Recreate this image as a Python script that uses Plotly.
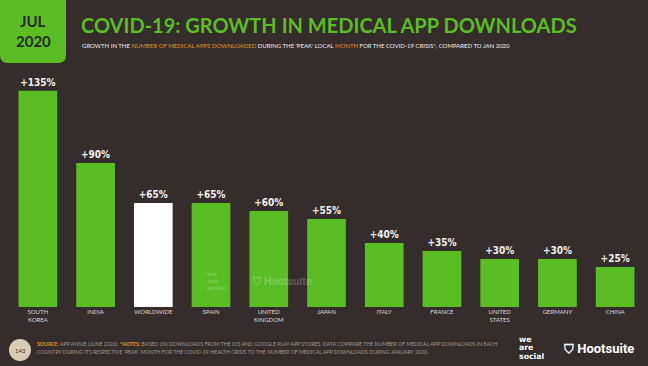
import plotly.graph_objects as go

categories = ["SOUTH<br>KOREA", "INDIA", "WORLDWIDE", "SPAIN", "UNITED<br>KINGDOM", "JAPAN",
              "ITALY", "FRANCE", "UNITED<br>STATES", "GERMANY", "CHINA"]
growth = [135, 90, 65, 65, 60, 55, 40, 35, 30, 30, 25]
highlight = "WORLDWIDE"

W, H = 648, 366
BG = "#352d2b"
GREEN = "#5bbd24"
ORANGE = "#e8902a"
ML, MR, MT, MB = 9, 4, 70, 59

def px(x):
    return (x - ML) / (W - ML - MR)

def py(y):
    return (H - MB - y) / (H - MT - MB)

colors = ["#ffffff" if c == highlight else GREEN for c in categories]
labels = [f"+{v}%" for v in growth]

fig = go.Figure(go.Bar(
    x=list(range(len(categories))), y=growth, marker=dict(color=colors, line=dict(width=0)),
    text=labels, textposition="outside", cliponaxis=False,
    textfont=dict(family="Liberation Sans Narrow, DejaVu Sans Condensed", size=10, color="#f2f2f2"),
    texttemplate="<b>%{text}</b>",
    width=0.67,
))

fig.update_layout(
    width=W, height=H, paper_bgcolor=BG, plot_bgcolor=BG,
    margin=dict(l=ML, r=MR, t=MT, b=MB), showlegend=False,
    xaxis=dict(range=[-0.5, len(categories) - 0.5], tickmode="array",
               tickvals=list(range(len(categories))), ticktext=categories,
               tickfont=dict(family="Lato, Open Sans", size=6, color="#d8d8d8"),
               showgrid=False, zeroline=False, showline=False, ticks="", ticklen=0),
    yaxis=dict(range=[0, 148], visible=False, showgrid=False, zeroline=False),
)

# date box with rounded bottom corners
r = 8
x0, x1, y0, y1 = 0, 66, 0, 63
path = (f"M {px(x0)},{py(y0)} L {px(x1)},{py(y0)} L {px(x1)},{py(y1 - r)} "
        f"Q {px(x1)},{py(y1)} {px(x1 - r)},{py(y1)} L {px(x0 + r)},{py(y1)} "
        f"Q {px(x0)},{py(y1)} {px(x0)},{py(y1 - r)} Z")
fig.add_shape(type="path", path=path, xref="paper", yref="paper",
              fillcolor=GREEN, line=dict(width=0), layer="below")

# footer page circle
fig.add_shape(type="circle", xref="paper", yref="paper",
              x0=px(9), x1=px(31), y0=py(361), y1=py(339),
              fillcolor="#d8ccb4", line=dict(width=0))

ann = []
def add(x, y, text, size, color, family="Lato, Open Sans", xanchor="left", yanchor="middle", **kw):
    ann.append(dict(x=px(x), y=py(y), xref="paper", yref="paper", text=text, showarrow=False,
                    xanchor=xanchor, yanchor=yanchor, font=dict(size=size, color=color, family=family), **kw))

add(33, 21, "<b>JUL</b>", 15, "#2a2a22", family="Lato", xanchor="center")
add(33, 41, "<b>2020</b>", 15, "#2a2a22", family="Lato", xanchor="center")
add(79, 25, "<b>COVID-19: GROWTH IN MEDICAL APP DOWNLOADS</b>", 20, GREEN, family="Lato")
add(80, 46, "GROWTH IN THE <span style='color:%s'>NUMBER OF MEDICAL APPS DOWNLOADED</span> DURING THE 'PEAK' LOCAL "
             "<span style='color:%s'>MONTH</span> FOR THE COVID-19 CRISIS*, COMPARED TO JAN 2020" % (ORANGE, ORANGE),
    6, "#f0f0f0")

add(20, 350, "143", 6, "#3a3430", xanchor="center")
add(35, 344, "<span style='color:%s'><b>SOURCE:</b></span> APP ANNIE (JUNE 2020). <span style='color:%s'><b>*NOTES:</b></span> "
             "BASED ON DOWNLOADS FROM THE IOS AND GOOGLE PLAY APP STORES. DATA COMPARE THE NUMBER OF MEDICAL APP DOWNLOADS IN EACH"
    % (ORANGE, ORANGE), 5.2, "#a09890")
add(35, 351.5, "COUNTRY DURING ITS RESPECTIVE 'PEAK' MONTH FOR THE COVID-19 HEALTH CRISIS TO THE NUMBER OF MEDICAL APP DOWNLOADS DURING JANUARY 2020.",
    5.2, "#a09890")

# logos
for yy, word in zip([339, 347.5, 356], ["we", "are", "social"]):
    add(517, yy, "<b>" + word + "</b>", 7.8, "#ffffff", family="DejaVu Sans")
add(561, 348, "<b>⛉ Hootsuite</b>", 13, "#ffffff", family="Roboto, DejaVu Sans")

# watermark
for yy, word in zip([273, 280, 287], ["we", "are", "social"]):
    add(205, yy, "<b>" + word + "</b>", 6, "rgba(255,255,255,0.22)", family="DejaVu Sans")
add(250, 281, "<b>⛉ Hootsuite</b>", 11, "rgba(255,255,255,0.22)", family="Roboto, DejaVu Sans")

fig.update_layout(annotations=ann)
fig.write_html("out.html", config={"displayModeBar": False},
               post_script="document.body.style.margin='0';")
